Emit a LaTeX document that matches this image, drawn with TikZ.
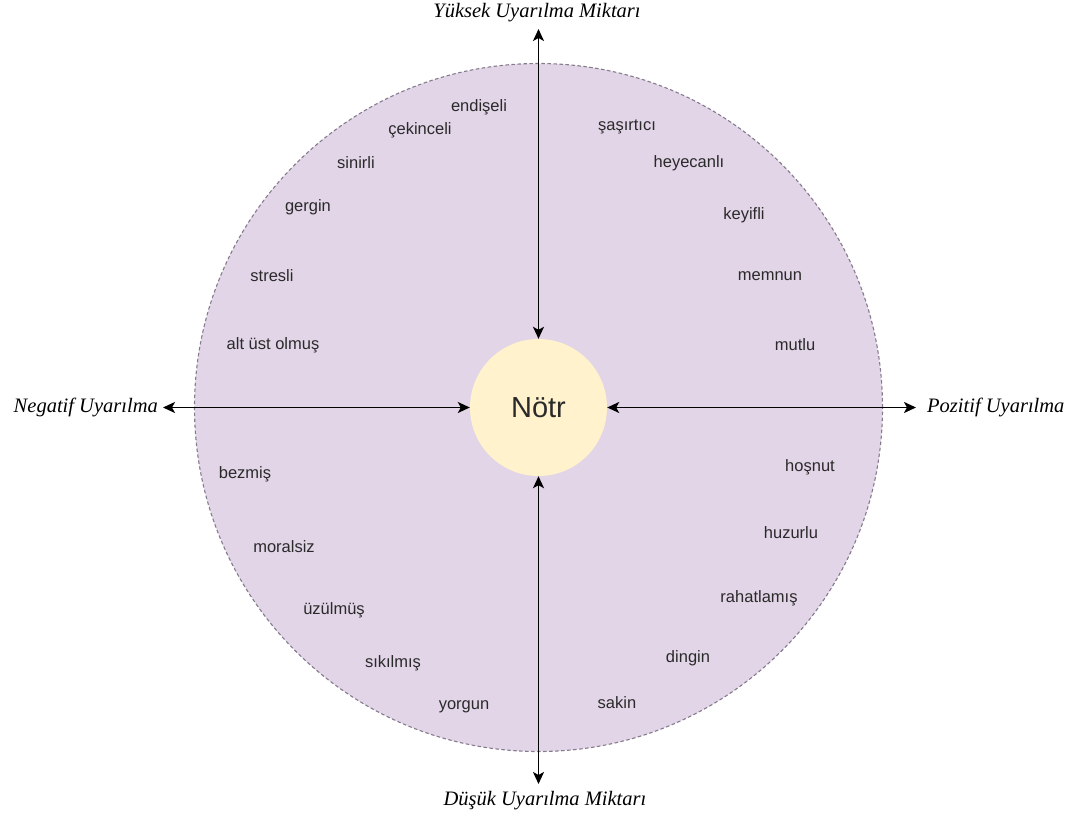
\documentclass[tikz,border=0pt]{standalone}
\usepackage{fontspec}
\setmainfont{Liberation Serif}
\setsansfont{Liberation Sans}
\usetikzlibrary{arrows.meta}
\definecolor{bigfill}{HTML}{E1D5E7}
\definecolor{bigline}{HTML}{857B8C}
\definecolor{smallfill}{HTML}{FFF2CC}
\definecolor{wordcol}{HTML}{2A2A2A}
\tikzset{
  word/.style={font=\sffamily\fontsize{16.5}{18}\selectfont, text=wordcol, inner sep=0pt},
  axislabel/.style={font=\itshape\fontsize{20.5}{22}\selectfont, inner sep=0pt},
  axisarrow/.style={{Stealth[length=12pt,width=11pt,inset=3pt]}-{Stealth[length=12pt,width=11pt,inset=3pt]}, line width=1.8pt},
}
\begin{document}
\begin{tikzpicture}[x=1pt,y=-1pt]
\useasboundingbox (0,0) rectangle (1079,816);
\fill[white] (0,0) rectangle (1079,816);
% big circle
\node[circle, minimum size=688pt, inner sep=0pt, fill=bigfill, draw=bigline, line width=1.1pt, dash pattern=on 3.5pt off 2.5pt] (big) at (538.5,407.5) {};
% centre
\node[circle, minimum size=137pt, inner sep=0pt, fill=smallfill, font=\sffamily\fontsize{29}{32}\selectfont, text=wordcol] (notr) at (538.5,407.5) {Nötr};
% axis labels
\node[axislabel, anchor=base] (yuksek) at (537,17.5) {Yüksek Uyarılma Miktarı};
\node[axislabel, anchor=base] (dusuk) at (545,805) {Düşük Uyarılma Miktarı};
\node[axislabel, anchor=base east] (negatif) at (158,412) {Negatif Uyarılma};
\node[axislabel, anchor=base west] (pozitif) at (927,412) {Pozitif Uyarılma};
% free ends
\coordinate (tT) at (538.5,29);
\coordinate (tB) at (538.5,784);
\coordinate (tL) at (163,407.5);
\coordinate (tR) at (916,407.5);
\draw[axisarrow] (tT) -- (notr.north);
\draw[axisarrow] (tB) -- (notr.south);
\draw[axisarrow] (tL) -- (notr.west);
\draw[axisarrow] (tR) -- (notr.east);
% words upper left
\node[word] (w1) at (479,107) {endişeli};
\node[word] (w2) at (420,130) {çekinceli};
\node[word] (w3) at (356,163) {sinirli};
\node[word] (w4) at (308,207) {gergin};
\node[word] (w5) at (272,276) {stresli};
\node[word] (w6) at (273,345) {alt üst olmuş};
% upper right
\node[word] (w7) at (627,127) {şaşırtıcı};
\node[word] (w8) at (689,163) {heyecanlı};
\node[word] (w9) at (744,215) {keyifli};
\node[word] (w10) at (770,276) {memnun};
\node[word] (w11) at (795,345) {mutlu};
% lower left
\node[word] (w12) at (245,474) {bezmiş};
\node[word] (w13) at (284,547) {moralsiz};
\node[word] (w14) at (334,610) {üzülmüş};
\node[word] (w15) at (393,663) {sıkılmış};
\node[word] (w16) at (464,707) {yorgun};
% lower right
\node[word] (w17) at (810,467) {hoşnut};
\node[word] (w18) at (791,533) {huzurlu};
\node[word] (w19) at (759,598) {rahatlamış};
\node[word] (w20) at (688,658) {dingin};
\node[word] (w21) at (617,703) {sakin};
\end{tikzpicture}
\end{document}
